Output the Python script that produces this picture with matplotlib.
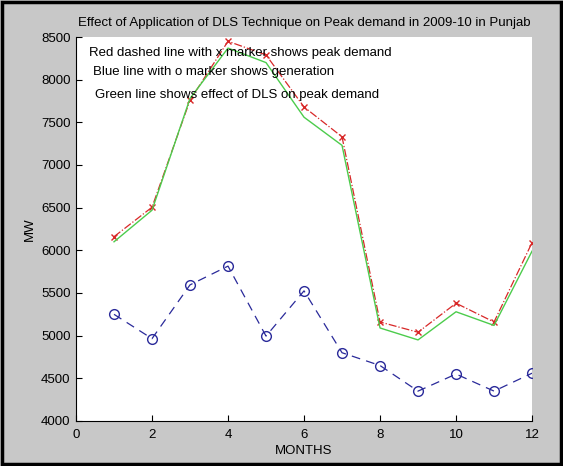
import matplotlib
matplotlib.use("Agg")
import matplotlib.pyplot as plt
from matplotlib.patches import Rectangle

months = [1, 2, 3, 4, 5, 6, 7, 8, 9, 10, 11, 12]
peak_demand = [6160, 6505, 7760, 8450, 8290, 7680, 7330, 5160, 5040, 5380, 5160, 6090]
dls_effect = [6100, 6470, 7780, 8370, 8200, 7560, 7230, 5090, 4950, 5280, 5120, 5990]
generation = [5250, 4965, 5595, 5815, 4995, 5525, 4800, 4650, 4350, 4550, 4350, 4560]

title = "Effect of Application of DLS Technique on Peak demand in 2009-10 in Punjab"
notes = ["Red dashed line with x marker shows peak demand",
         "Blue line with o marker shows generation",
         "Green line shows effect of DLS on peak demand"]

plt.rcParams['font.family'] = ['Liberation Sans', 'DejaVu Sans']

fig = plt.figure(figsize=(5.63, 4.66), dpi=100)
fig.patch.set_facecolor('#c8c8c8')
ax = fig.add_axes([0.135, 0.0966, 0.81, 0.824])
ax.set_facecolor('white')

ax.plot(months, generation, linestyle=(0, (7, 5)), color='#2a2a9a', marker='o',
        markersize=7, markerfacecolor='none', markeredgecolor='#2a2a9a', linewidth=0.9)
ax.plot(months, peak_demand, linestyle='-.', color='#d82828', marker='x',
        markersize=5, linewidth=0.9)
ax.plot(months, dls_effect, linestyle='-', color='#4ccc4c', linewidth=1.0)

ax.set_xlim(0, 12)
ax.set_ylim(4000, 8500)
ax.set_xticks(range(0, 13, 2))
ax.set_yticks(range(4000, 8501, 500))
ax.tick_params(direction='in', length=4, labelsize=9.5, colors='black', width=0.8)
ax.tick_params(axis='x', pad=6)
ax.tick_params(axis='y', pad=4)
for s in ['top', 'right']:
    ax.spines[s].set_visible(False)
for s in ['left', 'bottom']:
    ax.spines[s].set_linewidth(0.8)

ax.set_xlabel("MONTHS", fontsize=9.5, labelpad=3)
ax.set_ylabel("MW", fontsize=9.5, labelpad=4)
ax.set_title(title, fontsize=9.5, pad=8)

ax.text(0.34, 8312, notes[0], fontsize=9.5, va='center', ha='left')
ax.text(0.45, 8090, notes[1], fontsize=9.5, va='center', ha='left')
ax.text(0.50, 7820, notes[2], fontsize=9.5, va='center', ha='left')

fig.patches.append(Rectangle((0.004, 0.004), 0.992, 0.992, transform=fig.transFigure,
                             fill=False, edgecolor='black', linewidth=2.5))

fig.savefig("out.png", dpi=100, facecolor=fig.get_facecolor())
